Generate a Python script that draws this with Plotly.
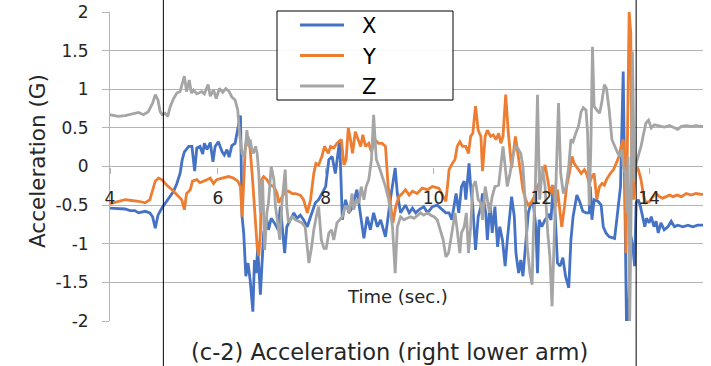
import plotly.graph_objects as go

# ---- X axis acceleration (G) vs time (sec.) ----
x_time = [
    4.00, 4.15, 4.28, 4.37, 4.46, 4.53, 4.65, 4.74, 4.79, 4.84,
    4.89, 4.96, 5.05, 5.11, 5.18, 5.24, 5.30, 5.34, 5.38, 5.46,
    5.52, 5.57, 5.61, 5.67, 5.72, 5.75, 5.80, 5.86, 5.91, 5.95,
    6.01, 6.08, 6.12, 6.17, 6.21, 6.26, 6.32, 6.38, 6.42, 6.45,
    6.48, 6.52, 6.56, 6.60, 6.65, 6.68, 6.71, 6.74, 6.79, 6.85,
    6.91, 6.94, 6.99, 7.05, 7.12, 7.16, 7.24, 7.28, 7.35, 7.41,
    7.47, 7.53, 7.59, 7.66, 7.72, 7.81, 7.87, 8.00, 8.06, 8.12,
    8.18, 8.26, 8.31, 8.37, 8.43, 8.49, 8.58, 8.65, 8.71, 8.77,
    8.83, 8.89, 8.96, 9.02, 9.11, 9.20, 9.29, 9.33, 9.39, 9.48,
    9.55, 9.61, 9.67, 9.73, 9.82, 9.89, 9.98, 10.07, 10.16, 10.23,
    10.29, 10.34, 10.38, 10.42, 10.47, 10.52, 10.57, 10.60, 10.66, 10.69,
    10.73, 10.78, 10.83, 10.88, 10.91, 10.97, 11.00, 11.05, 11.09, 11.14,
    11.19, 11.23, 11.28, 11.33, 11.37, 11.42, 11.45, 11.50, 11.53, 11.58,
    11.62, 11.66, 11.71, 11.76, 11.81, 11.85, 11.90, 11.93, 11.96, 12.01,
    12.07, 12.14, 12.18, 12.22, 12.26, 12.30, 12.35, 12.40, 12.45, 12.51,
    12.55, 12.59, 12.66, 12.72, 12.77, 12.83, 12.89, 12.91, 12.94, 12.98,
    13.05, 13.11, 13.15, 13.20, 13.26, 13.36, 13.40, 13.47, 13.52, 13.56,
    13.58, 13.62, 13.65, 13.70, 13.73, 13.76, 13.80, 13.84, 13.88, 13.92,
    13.95, 14.00, 14.04, 14.09, 14.13, 14.17, 14.22, 14.28, 14.35, 14.41,
    14.47, 14.53, 14.63, 14.72, 14.81, 14.90, 15.00,
]
x_acc = [
    -0.54, -0.55, -0.55, -0.57, -0.57, -0.60, -0.58, -0.60, -0.65, -0.80,
    -0.63, -0.54, -0.45, -0.39, -0.32, -0.22, -0.09, 0.09, 0.19, 0.26,
    0.26, -0.06, 0.24, 0.26, 0.16, 0.30, 0.22, 0.31, 0.06, 0.26,
    0.32, 0.19, 0.15, 0.22, 0.12, 0.27, 0.30, 0.52, 0.66, -0.65,
    -0.86, -1.42, -1.25, -1.47, -1.88, -1.21, -1.38, -1.06, -1.66, -0.86,
    -0.69, -0.82, -0.67, -0.73, -0.82, -0.52, -1.12, -0.78, -0.69, -0.60,
    -0.67, -0.63, -0.69, -0.78, -0.65, -0.47, -0.43, -0.26, 0.09, 0.13,
    -0.09, 0.34, -0.69, -0.43, -0.60, -0.54, -0.30, -0.65, -0.93, -0.65,
    -0.82, -0.60, -0.78, -0.69, -0.91, -0.43, -0.02, -0.35, -0.60, -0.50,
    -0.60, -0.54, -0.60, -0.56, -0.52, -0.60, -0.52, -0.50, -0.56, -0.60,
    -0.60, -0.69, -0.52, -0.35, -0.60, -0.26, -0.19, -0.43, 0.04, -0.26,
    -0.52, -1.08, -0.65, -0.52, -0.35, -0.60, -0.95, -0.47, -0.86, -0.52,
    -1.04, -0.78, -0.95, -1.29, -0.95, -0.60, -0.39, -0.65, -1.12, -1.38,
    -1.21, -1.42, -1.04, -0.60, -0.47, -0.47, -0.78, -1.38, -0.69, -0.78,
    -0.69, -0.63, -0.69, -0.24, -0.65, -1.25, -1.29, -1.18, -1.42, -1.57,
    -0.95, -0.65, -0.37, -0.47, -0.58, -0.60, -0.60, -0.26, -0.69, -0.43,
    -0.45, -0.50, -0.78, -0.86, -0.91, -0.93, -0.69, -0.26, 1.23, -1.12,
    -2.00, -2.00, -0.86, -1.04, -1.29, -0.47, -0.43, -0.52, -0.65, -0.78,
    -0.67, -0.73, -0.65, -0.78, -0.71, -0.86, -0.73, -0.82, -0.78, -0.71,
    -0.78, -0.76, -0.78, -0.76, -0.78, -0.76, -0.76,
]

# ---- Y axis acceleration (G) vs time (sec.) ----
y_time = [
    4.00, 4.15, 4.28, 4.40, 4.53, 4.65, 4.74, 4.84, 4.90, 4.96,
    5.05, 5.15, 5.24, 5.33, 5.38, 5.42, 5.49, 5.53, 5.61, 5.67,
    5.77, 5.86, 5.92, 5.98, 6.08, 6.20, 6.29, 6.37, 6.42, 6.45,
    6.48, 6.51, 6.56, 6.60, 6.65, 6.69, 6.73, 6.76, 6.79, 6.81,
    6.85, 6.91, 6.97, 7.04, 7.10, 7.13, 7.19, 7.25, 7.31, 7.38,
    7.44, 7.53, 7.59, 7.66, 7.72, 7.78, 7.82, 7.87, 7.93, 7.98,
    8.05, 8.09, 8.15, 8.21, 8.29, 8.34, 8.38, 8.42, 8.46, 8.50,
    8.55, 8.60, 8.65, 8.69, 8.74, 8.80, 8.85, 8.91, 8.98, 9.05,
    9.11, 9.16, 9.20, 9.25, 9.30, 9.36, 9.42, 9.48, 9.55, 9.61,
    9.70, 9.79, 9.89, 9.98, 10.10, 10.20, 10.23, 10.26, 10.29, 10.35,
    10.40, 10.44, 10.49, 10.54, 10.60, 10.65, 10.69, 10.73, 10.78, 10.83,
    10.88, 10.91, 10.96, 11.00, 11.06, 11.11, 11.16, 11.21, 11.25, 11.29,
    11.34, 11.39, 11.45, 11.52, 11.56, 11.62, 11.66, 11.71, 11.76, 11.81,
    11.87, 11.93, 11.99, 12.02, 12.07, 12.12, 12.16, 12.21, 12.26, 12.30,
    12.35, 12.38, 12.43, 12.47, 12.52, 12.57, 12.61, 12.67, 12.74, 12.80,
    12.84, 12.89, 12.94, 12.98, 13.03, 13.08, 13.13, 13.17, 13.21, 13.28,
    13.34, 13.39, 13.44, 13.48, 13.52, 13.55, 13.57, 13.60, 13.63, 13.66,
    13.68, 13.71, 13.74, 13.77, 13.80, 13.85, 13.90, 13.94, 14.01, 14.07,
    14.13, 14.19, 14.25, 14.32, 14.38, 14.44, 14.52, 14.60, 14.69, 14.78,
    14.87, 14.97, 15.00,
]
y_acc = [
    -0.48, -0.45, -0.43, -0.44, -0.45, -0.47, -0.43, -0.19, -0.15, -0.17,
    -0.24, -0.30, -0.37, -0.43, -0.56, -0.35, -0.30, -0.19, -0.17, -0.21,
    -0.18, -0.15, -0.22, -0.17, -0.15, -0.13, -0.15, -0.19, -0.26, -0.65,
    -0.22, 0.26, 0.39, 0.22, -0.22, -0.69, -1.04, -1.16, -0.86, -0.17,
    -0.13, -0.17, -0.24, -0.26, -0.35, -0.47, -0.39, -0.32, -0.32, -0.35,
    -0.35, -0.37, -0.43, -0.60, -0.43, -0.09, 0.04, 0.02, 0.13, 0.26,
    0.17, 0.26, 0.24, 0.30, 0.35, 0.02, 0.09, 0.50, 0.35, 0.17,
    0.45, 0.35, 0.26, 0.41, 0.26, 0.30, 0.19, 0.35, 0.30, 0.30,
    0.26, -0.26, -0.47, -0.73, -0.52, -0.39, -0.35, -0.30, -0.37, -0.32,
    -0.35, -0.28, -0.30, -0.26, -0.28, -0.42, -0.45, -0.26, -0.04, 0.04,
    0.09, 0.26, 0.32, 0.26, 0.26, 0.17, 0.39, 0.43, 0.78, 0.47,
    0.39, -0.06, 0.39, 0.47, 0.39, 0.41, 0.35, 0.43, 0.30, 0.39,
    0.93, 0.43, -0.02, 0.39, 0.22, -0.09, -0.30, -0.43, -0.50, -0.47,
    -0.39, -0.26, -0.17, -0.09, 0.02, -0.17, -0.35, -0.24, -0.52, -0.30,
    -0.60, -0.78, -0.52, -0.26, -0.09, 0.13, 0.04, -0.02, -0.09, -0.04,
    -0.09, -0.22, -0.13, -0.09, -0.43, -0.26, -0.22, -0.24, -0.17, -0.09,
    -0.04, 0.04, 0.13, 0.26, 0.35, 0.00, -1.12, 0.43, 2.00, 1.73,
    0.00, -0.43, -0.09, 0.00, -0.04, -0.17, -0.39, -0.47, -0.45, -0.39,
    -0.35, -0.39, -0.41, -0.39, -0.37, -0.39, -0.37, -0.39, -0.35, -0.37,
    -0.35, -0.36, -0.36,
]

# ---- Z axis acceleration (G) vs time (sec.) ----
z_time = [
    4.00, 4.15, 4.28, 4.40, 4.53, 4.62, 4.71, 4.79, 4.84, 4.89,
    4.93, 4.97, 5.02, 5.07, 5.12, 5.18, 5.24, 5.30, 5.34, 5.38,
    5.42, 5.47, 5.51, 5.55, 5.61, 5.70, 5.75, 5.82, 5.86, 5.92,
    5.97, 6.03, 6.09, 6.15, 6.21, 6.26, 6.32, 6.37, 6.40, 6.43,
    6.45, 6.48, 6.51, 6.54, 6.57, 6.60, 6.63, 6.66, 6.70, 6.73,
    6.76, 6.79, 6.83, 6.87, 6.91, 6.94, 6.99, 7.04, 7.07, 7.12,
    7.15, 7.19, 7.22, 7.25, 7.28, 7.31, 7.38, 7.44, 7.50, 7.56,
    7.62, 7.69, 7.74, 7.78, 7.84, 7.87, 7.92, 7.97, 8.01, 8.06,
    8.11, 8.15, 8.21, 8.26, 8.31, 8.36, 8.40, 8.44, 8.49, 8.52,
    8.57, 8.62, 8.66, 8.71, 8.75, 8.80, 8.85, 8.89, 8.94, 8.99,
    9.05, 9.11, 9.17, 9.24, 9.29, 9.33, 9.39, 9.45, 9.51, 9.58,
    9.64, 9.70, 9.76, 9.82, 9.89, 9.95, 10.01, 10.07, 10.13, 10.18,
    10.23, 10.28, 10.32, 10.36, 10.40, 10.44, 10.49, 10.52, 10.57, 10.61,
    10.65, 10.69, 10.73, 10.78, 10.83, 10.88, 10.91, 10.96, 11.00, 11.04,
    11.09, 11.14, 11.21, 11.25, 11.29, 11.33, 11.37, 11.42, 11.47, 11.52,
    11.56, 11.62, 11.66, 11.70, 11.74, 11.79, 11.83, 11.85, 11.89, 11.93,
    11.97, 12.02, 12.07, 12.12, 12.16, 12.20, 12.24, 12.28, 12.32, 12.36,
    12.41, 12.46, 12.51, 12.55, 12.59, 12.64, 12.69, 12.74, 12.78, 12.83,
    12.86, 12.89, 12.92, 12.95, 12.98, 13.03, 13.08, 13.12, 13.17, 13.21,
    13.26, 13.31, 13.36, 13.42, 13.46, 13.50, 13.52, 13.56, 13.59, 13.61,
    13.64, 13.66, 13.69, 13.71, 13.73, 13.76, 13.80, 13.85, 13.90, 13.94,
    13.99, 14.04, 14.10, 14.19, 14.28, 14.38, 14.47, 14.53, 14.60, 14.69,
    14.78, 14.87, 14.97, 15.00,
]
z_acc = [
    0.67, 0.65, 0.66, 0.68, 0.70, 0.67, 0.71, 0.82, 0.93, 0.86,
    0.71, 0.67, 0.69, 0.65, 0.78, 0.88, 0.95, 0.97, 1.08, 1.17,
    0.97, 1.12, 0.95, 0.99, 0.94, 0.97, 0.94, 1.06, 0.91, 0.99,
    0.88, 1.01, 0.96, 1.01, 0.97, 0.90, 0.86, 0.73, 0.45, 0.26,
    0.17, 0.13, 0.22, 0.47, 0.26, 0.35, 0.22, 0.17, 0.26, 0.17,
    -0.09, -0.60, -0.17, -1.08, -0.60, -0.47, 0.00, -0.17, -0.52, -0.78,
    -0.95, -0.47, -0.22, -0.04, -0.52, -0.73, -0.65, -0.69, -0.71, -0.73,
    -0.78, -1.25, -1.04, -0.82, -0.60, -0.52, -0.95, -1.06, -1.06, -0.86,
    -0.82, -0.95, -0.73, -0.69, -0.65, -0.52, -0.52, -0.60, -0.35, -0.56,
    -0.43, -0.47, -0.26, -0.43, -0.26, -0.17, 0.09, 0.67, 0.09, 0.00,
    -0.13, -0.26, -0.43, -0.78, -1.38, -0.78, -0.65, -0.69, -0.67, -0.65,
    -0.67, -0.63, -0.60, -0.63, -0.60, -0.63, -0.65, -0.69, -0.82, -0.95,
    -1.17, -1.12, -0.95, -0.78, -0.60, -0.82, -1.12, -0.86, -0.78, -0.60,
    -1.12, -0.78, -0.26, -0.19, -0.43, -0.47, -0.69, -0.26, -0.43, -0.60,
    -0.39, -0.26, -0.24, 0.00, 0.26, 0.00, -0.26, -0.09, 0.13, 0.26,
    0.24, 0.17, 0.00, -0.43, -1.04, -1.38, -1.53, -0.95, -0.26, 0.93,
    -0.43, 0.00, -0.26, -0.86, -1.17, -1.81, -0.86, 0.00, 0.82, -0.09,
    -0.35, -0.26, 0.00, 0.35, 0.32, 0.43, 0.52, 0.71, 0.76, 0.73,
    0.43, -0.50, 0.26, 1.55, 0.78, 0.73, 0.69, 0.82, 1.06, 1.01,
    0.73, 0.35, 0.26, 0.17, 0.13, 0.22, 0.00, -0.09, -0.60, 0.13,
    -2.00, -1.00, 1.49, 0.30, -0.20, 0.04, 0.13, 0.26, 0.43, 0.56,
    0.60, 0.50, 0.54, 0.52, 0.51, 0.53, 0.50, 0.48, 0.52, 0.53,
    0.52, 0.53, 0.52, 0.52,
]

series_names = ["X", "Y", "Z"]
series_colors = ["#4472C4", "#ED7D31", "#A5A5A5"]

x_tick_vals = [4, 6, 8, 10, 12, 14]
x_tick_text = ["4", "6", "8", "10", "12", "14"]
y_tick_vals = [-2, -1.5, -1, -0.5, 0, 0.5, 1, 1.5, 2]
y_tick_text = ["-2", "-1.5", "-1", "-0.5", "0", "0.5", "1", "1.5", "2"]

# time markers (sec.) drawn as full-height vertical rules
marker_times = [4.99, 13.76]

for t, v in ((x_time, x_acc), (y_time, y_acc), (z_time, z_acc)):
    if len(t) != len(v):
        raise ValueError("time/value length mismatch")

# ---- figure geometry ----
W, H = 711, 366
ML, MR, MT, MB = 110, 8, 12, 45
PW, PH = W - ML - MR, H - MT - MB

FONT = "DejaVu Sans, Noto Sans, sans-serif"
TXT = "#262626"
GRID = "#b4b4b4"


def fx(px):
    """pixel column -> paper x"""
    return (px - ML) / PW


def fy(py):
    """pixel row -> paper y"""
    return 1 - (py - MT) / PH


fig = go.Figure()
for name, color, t, v in zip(series_names, series_colors,
                             (x_time, y_time, z_time), (x_acc, y_acc, z_acc)):
    fig.add_trace(go.Scatter(
        x=t, y=v, mode="lines", name=name,
        line=dict(color=color, width=2.8),
        showlegend=False, hoverinfo="skip",
    ))

shapes = []
for mt in marker_times:
    shapes.append(dict(type="line", xref="x", yref="paper", x0=mt, x1=mt,
                       y0=fy(H + 5), y1=fy(-5), layer="above",
                       line=dict(color="#000000", width=1)))

# legend box with line samples
shapes.append(dict(type="rect", xref="paper", yref="paper",
                   x0=fx(277), x1=fx(453), y0=fy(100), y1=fy(11),
                   fillcolor="rgba(255,255,255,0.9)", layer="above",
                   line=dict(color="#000000", width=1)))
annotations = []
for i, (name, color) in enumerate(zip(series_names, series_colors)):
    row = 25 + i * 30.5
    shapes.append(dict(type="line", xref="paper", yref="paper",
                       x0=fx(300), x1=fx(344), y0=fy(row), y1=fy(row),
                       layer="above", line=dict(color=color, width=2.8)))
    annotations.append(dict(text=name, xref="paper", yref="paper",
                            x=fx(360), y=fy(row + 1), xanchor="left", yanchor="middle",
                            showarrow=False,
                            font=dict(family=FONT, size=21, color="#000000")))

annotations += [
    dict(text="Time (sec.)", xref="paper", yref="paper",
         x=fx(397), y=fy(296), xanchor="center", yanchor="middle",
         showarrow=False, font=dict(family=FONT, size=18, color=TXT)),
    dict(text="Acceleration (G)", xref="paper", yref="paper",
         x=fx(38), y=fy(161), xanchor="center", yanchor="middle", textangle=-90,
         showarrow=False, font=dict(family=FONT, size=21.5, color=TXT)),
    dict(text="(c-2) Acceleration (right lower arm)", xref="paper", yref="paper",
         x=fx(389), y=fy(352), xanchor="center", yanchor="middle",
         showarrow=False, font=dict(family=FONT, size=22.5, color=TXT)),
]

fig.update_layout(
    width=W, height=H,
    margin=dict(l=ML, r=MR, t=MT, b=MB, pad=0),
    paper_bgcolor="#ffffff", plot_bgcolor="#ffffff",
    showlegend=False,
    shapes=shapes, annotations=annotations,
    xaxis=dict(
        range=[4, 15], anchor="free", position=0.5, automargin=False,
        showgrid=False, zeroline=False, showline=False,
        tickmode="array", tickvals=x_tick_vals, ticktext=x_tick_text,
        ticks="outside", ticklen=6, tickcolor=GRID, tickwidth=1,
        tickfont=dict(family=FONT, size=17, color=TXT),
        ticklabelstandoff=10,
    ),
    yaxis=dict(
        range=[-2, 2], automargin=False,
        showgrid=True, gridcolor=GRID, gridwidth=1,
        zeroline=False, showline=True, linecolor=GRID, linewidth=1,
        tickmode="array", tickvals=y_tick_vals, ticktext=y_tick_text,
        ticks="outside", ticklen=7, tickcolor=GRID, tickwidth=1,
        tickfont=dict(family=FONT, size=17, color=TXT),
        ticklabelstandoff=10, ticklabeloverflow="allow",
    ),
)

fig.write_html("out.html")
